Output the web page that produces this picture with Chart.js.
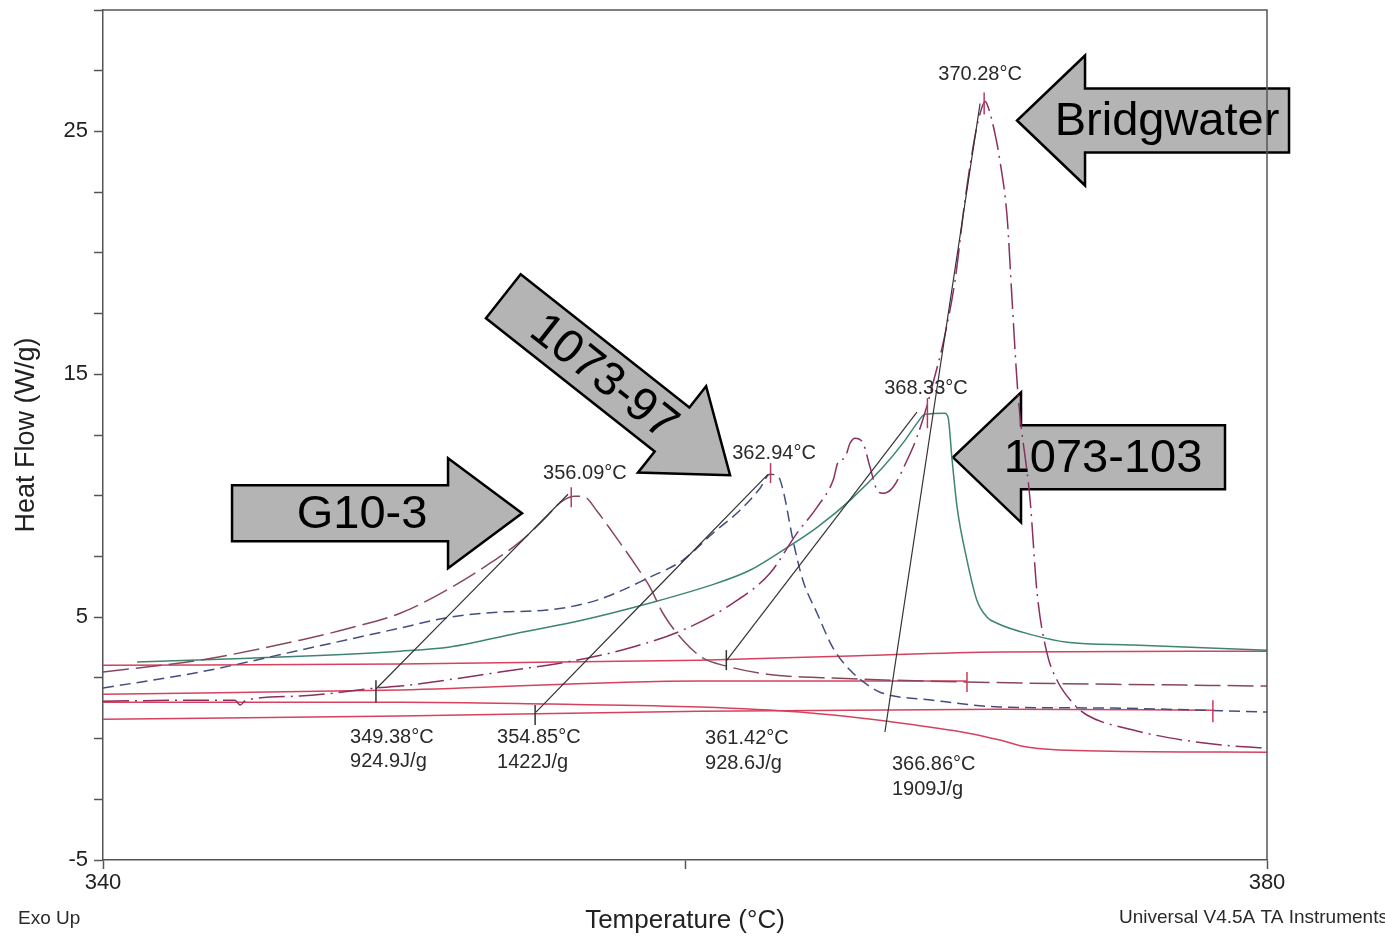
<!DOCTYPE html>
<html>
<head>
<meta charset="utf-8">
<title>DSC heat flow</title>
<script src="https://cdn.jsdelivr.net/npm/chart.js@4.4.1/dist/chart.umd.min.js"></script>
<style>
	html, body { margin: 0; padding: 0; background: #fff; }
	#wrap { width: 1385px; height: 936px; position: relative; }
</style>
</head>
<body>
<div id="wrap"><canvas id="chartDSC"></canvas></div>
<script>
// values: temperature (°C) / heat flow (W/g)
var g10T  = [340, 343.33, 346.77, 348.49, 350.21, 351.92, 353.30, 354.40, 355.19, 355.77, 356.22, 356.56, 356.98, 357.53, 358.35, 358.80, 359.24, 359.93, 360.62, 361.44, 362.82, 365.09, 369.69, 380];
var g10HF = [2.74, 3.23, 4.05, 4.55, 5.16, 6.19, 7.22, 8.17, 9.07, 9.77, 9.98, 9.94, 9.36, 8.46, 7.06, 6.23, 5.16, 4.05, 3.31, 2.98, 2.65, 2.49, 2.33, 2.16];

var n97T  = [340, 343.33, 346.77, 350.21, 351.92, 353.64, 355.26, 356.98, 358.80, 359.93, 360.96, 361.89, 362.58, 362.92, 363.20, 363.37, 363.71, 364.05, 364.54, 365.09, 365.67, 366.19, 366.70, 368.52, 370.82, 374.26, 380];
var n97HF = [2.08, 2.74, 3.64, 4.55, 5.00, 5.21, 5.29, 5.70, 6.65, 7.35, 8.46, 9.40, 10.31, 10.88, 10.80, 10.23, 8.17, 6.52, 5.16, 3.72, 2.82, 2.28, 1.91, 1.58, 1.30, 1.26, 1.09];

var n103T  = [341.17, 345.05, 350.21, 351.92, 354.23, 356.49, 358.80, 361.10, 362.23, 363.37, 364.54, 365.67, 366.80, 367.56, 367.97, 368.25, 368.93, 369.04, 369.18, 369.35, 369.69, 370.03, 370.38, 370.72, 371.96, 373.13, 375.40, 380];
var n103HF = [3.15, 3.31, 3.60, 3.77, 4.34, 4.88, 5.58, 6.40, 6.93, 7.76, 8.70, 9.81, 11.17, 12.28, 12.98, 13.35, 13.40, 13.23, 11.46, 9.53, 7.35, 5.70, 5.00, 4.75, 4.26, 3.97, 3.85, 3.64];

var bwT  = [340, 343.33, 344.54, 344.71, 344.91, 346.77, 349.38, 350.21, 353.64, 356.63, 358.21, 359.93, 361.65, 362.92, 363.85, 364.54, 365.09, 365.26, 365.50, 365.67, 365.84, 366.12, 366.36, 366.60, 366.80, 367.15, 367.63, 367.97, 368.32, 368.52, 368.87, 369.28, 369.62, 369.97, 370.14, 370.31, 370.41, 370.65, 370.82, 371.07, 371.24, 371.44, 371.86, 372.10, 372.44, 372.78, 373.33, 373.81, 375.40, 377.11, 378.83, 380];
var bwHF = [1.54, 1.58, 1.58, 1.38, 1.58, 1.75, 2.08, 2.16, 2.74, 3.31, 3.77, 4.47, 5.58, 6.81, 8.46, 9.53, 10.64, 11.38, 11.58, 12.16, 12.37, 12.16, 11.17, 10.23, 10.10, 10.35, 11.46, 12.41, 13.72, 14.63, 16.28, 18.87, 22.16, 24.84, 25.74, 26.23, 26.03, 24.92, 23.81, 21.46, 18.05, 14.22, 9.81, 5.99, 3.52, 2.41, 1.46, 0.97, 0.35, -0.06, -0.31, -0.39];

// red baseline traces
var baseAT  = [340, 350.21, 360.52, 365.67, 370.82, 380];
var baseAHF = [3.02, 3.07, 3.23, 3.40, 3.56, 3.60];
var baseBT  = [340, 350.21, 360.52, 369.69];
var baseBHF = [1.83, 2.00, 2.37, 2.37];
var baseCT  = [340, 350.21, 355.36, 360.52, 363.95, 367.39, 369.69, 370.82, 371.75, 374.26, 380];
var baseCHF = [1.50, 1.50, 1.42, 1.30, 1.09, 0.64, 0.23, -0.06, -0.35, -0.51, -0.56];
var baseDT  = [340, 350.21, 360.52, 370.82, 378.14];
var baseDHF = [0.80, 0.93, 1.13, 1.21, 1.17];

// onset tangents: [T start, T end], [HF start, HF end]
var tanT  = [[349.38, 355.98], [354.88, 362.85], [361.44, 367.97], [366.87, 370.14]];
var tanHF = [[2.04, 10.06], [1.09, 10.88], [3.23, 13.44], [0.27, 26.15]];

// onset marks, peak marks, integration limit marks
var onsetT  = [349.38, 354.85, 361.42];
var onsetHF = [1.95, 0.97, 3.23];
var peakT   = [356.09, 362.94, 368.33, 370.28];
var peakHF  = [9.94, 10.93, 13.40, 26.15];
var limitT  = [369.69, 378.14];
var limitHF = [2.33, 1.13];

var xTicks = [340, 380];
var yTicks = [-5, 5, 15, 25];

var FONT = '"Liberation Sans", Arial, Helvetica, sans-serif';

// text placed on the plot (anchored in data units)
var notes = [
	{ text: '370.28°C', x: 370.14, y: 27.35, align: 'center' },
	{ text: '368.33°C', x: 368.28, y: 14.42, align: 'center' },
	{ text: '362.94°C', x: 363.06, y: 11.75, align: 'center' },
	{ text: '356.09°C', x: 356.56, y: 10.93, align: 'center' },
	{ text: '349.38°C', x: 348.49, y: 0.06, align: 'left' },
	{ text: '924.9J/g', x: 348.49, y: -0.93, align: 'left' },
	{ text: '354.85°C', x: 353.54, y: 0.06, align: 'left' },
	{ text: '1422J/g',  x: 353.54, y: -0.97, align: 'left' },
	{ text: '361.42°C', x: 360.69, y: 0.02, align: 'left' },
	{ text: '928.6J/g', x: 360.69, y: -1.01, align: 'left' },
	{ text: '366.86°C', x: 367.11, y: -1.05, align: 'left' },
	{ text: '1909J/g',  x: 367.11, y: -2.08, align: 'left' }
];

// sample call-out arrows, tip anchored in data units
var arrows = [
	{ text: 'Bridgwater', tipT: 371.41, tipHF: 25.45, angle: 180, len: 272, head: 68, shaftW: 32, headW: 65, textAt: 150 },
	{ text: '1073-103',   tipT: 369.21, tipHF: 11.58, angle: 180, len: 272, head: 68, shaftW: 32, headW: 65, textAt: 150 },
	{ text: 'G10-3',      tipT: 354.40, tipHF: 9.28,  angle: 0,   len: 290, head: 74, shaftW: 28, headW: 55, textAt: 160 },
	{ text: '1073-97',    tipT: 361.55, tipHF: 10.84, angle: 38.3, len: 289, head: 74, shaftW: 28, headW: 55, textAt: 160 }
];

function pts(ts, hs) {
	return ts.map(function(t, i) { return { x: t, y: hs[i] }; });
}

function curve(label, ts, hs, color, dash, width) {
	return {
		label: label,
		data: pts(ts, hs),
		showLine: true,
		borderColor: color,
		borderWidth: width || 1.5,
		borderDash: dash || [],
		pointRadius: 0,
		cubicInterpolationMode: 'monotone',
		fill: false
	};
}

function marks(label, ts, hs, color, sizes) {
	return {
		label: label,
		data: pts(ts, hs),
		showLine: false,
		pointStyle: 'line',
		rotation: 90,
		pointRadius: sizes,
		pointBorderColor: color,
		pointBorderWidth: 1.5,
		pointHoverRadius: sizes
	};
}

var datasets = [];
datasets.push(marks('onset', onsetT, onsetHF, '#333333', [11, 10, 10]));
datasets.push(marks('peak', peakT, peakHF, '#b53a5e', [10, 10, 15, 11]));
datasets.push(marks('limit', limitT, limitHF, '#cf3a55', [10, 11]));
tanT.forEach(function(t, i) {
	datasets.push(curve('tangent' + i, t, tanHF[i], '#333333', [], 1.2));
});
datasets.push(curve('Bridgwater', bwT, bwHF, '#8c2e62', [26, 6, 2, 6]));
datasets.push(curve('G10-3', g10T, g10HF, '#86495c', [26, 7]));
datasets.push(curve('1073-97', n97T, n97HF, '#434e7e', [11, 6]));
datasets.push(curve('1073-103', n103T, n103HF, '#3d8570'));
datasets.push(curve('baseA', baseAT, baseAHF, '#d6425e'));
datasets.push(curve('baseB', baseBT, baseBHF, '#d6425e'));
datasets.push(curve('baseC', baseCT, baseCHF, '#d6425e'));
datasets.push(curve('baseD', baseDT, baseDHF, '#d6425e'));

function drawArrow(ctx, chart, a) {
	var tx = chart.scales.x.getPixelForValue(a.tipT);
	var ty = chart.scales.y.getPixelForValue(a.tipHF);
	ctx.save();
	ctx.translate(tx, ty);
	ctx.rotate(a.angle * Math.PI / 180);
	ctx.beginPath();
	ctx.moveTo(0, 0);
	ctx.lineTo(-a.head, -a.headW);
	ctx.lineTo(-a.head, -a.shaftW);
	ctx.lineTo(-a.len, -a.shaftW);
	ctx.lineTo(-a.len, a.shaftW);
	ctx.lineTo(-a.head, a.shaftW);
	ctx.lineTo(-a.head, a.headW);
	ctx.closePath();
	ctx.fillStyle = '#b4b4b4';
	ctx.fill();
	ctx.lineWidth = 2.5;
	ctx.lineJoin = 'miter';
	ctx.strokeStyle = '#000';
	ctx.stroke();
	// label sits on the shaft, kept upright
	ctx.translate(-a.textAt, 0);
	if (Math.abs(a.angle) > 90) ctx.rotate(Math.PI);
	ctx.fillStyle = '#000';
	ctx.font = '47px ' + FONT;
	ctx.textAlign = 'center';
	ctx.textBaseline = 'middle';
	ctx.fillText(a.text, 0, 2);
	ctx.restore();
}

var decor = {
	id: 'decor',
	beforeDatasetsDraw: function(chart) {
		var ctx = chart.ctx;
		arrows.forEach(function(a) { drawArrow(ctx, chart, a); });
	},
	afterDatasetsDraw: function(chart) {
		var ctx = chart.ctx, xs = chart.scales.x, ys = chart.scales.y, ca = chart.chartArea;
		ctx.save();
		// top and right edge of the frame
		ctx.strokeStyle = '#555';
		ctx.lineWidth = 1.5;
		ctx.beginPath();
		ctx.moveTo(ca.left, ca.top);
		ctx.lineTo(ca.right, ca.top);
		ctx.lineTo(ca.right, ca.bottom);
		ctx.stroke();

		ctx.fillStyle = '#2a2a2a';
		ctx.font = '20px ' + FONT;
		ctx.textBaseline = 'middle';
		notes.forEach(function(n) {
			ctx.textAlign = n.align;
			ctx.fillText(n.text, xs.getPixelForValue(n.x), ys.getPixelForValue(n.y));
		});

		ctx.font = '19px ' + FONT;
		ctx.textAlign = 'left';
		ctx.fillText('Exo Up', 18, 919);
		ctx.fillText('Universal V4.5A TA Instruments', 1119, 918);
		ctx.restore();
	}
};

function Init() {
	var ctx = document.getElementById('chartDSC').getContext('2d');
	new Chart(ctx, {
		type: 'scatter',
		data: { datasets: datasets },
		plugins: [decor],
		options: {
			responsive: true,
			maintainAspectRatio: false,
			animation: false,
			devicePixelRatio: 1,
			layout: { autoPadding: false, padding: { top: 10, right: 118, left: 0, bottom: 0 } },
			plugins: { legend: { display: false }, tooltip: { enabled: false } },
			scales: {
				x: {
					type: 'linear', min: 340, max: 380,
					afterFit: function(s) { s.height = 76; },
					ticks: {
						stepSize: 20, autoSkip: false, maxRotation: 0, padding: 1, color: '#222',
						font: { family: FONT, size: 22 },
						callback: function(v) { return xTicks.indexOf(v) >= 0 ? String(v) : ''; }
					},
					grid: { drawOnChartArea: false, tickLength: 9, color: '#555', tickWidth: 1.5 },
					border: { color: '#555', width: 1.5 },
					title: { display: true, text: 'Temperature (°C)', color: '#222',
						font: { family: FONT, size: 26 }, padding: { top: 0, bottom: 0 } }
				},
				y: {
					type: 'linear', min: -5, max: 30,
					afterFit: function(s) { s.width = 103; },
					ticks: {
						stepSize: 2.5, autoSkip: false, padding: 6, color: '#222',
						font: { family: FONT, size: 22, lineHeight: 0.1 },
						callback: function(v) { return yTicks.indexOf(v) >= 0 ? String(v) : ''; }
					},
					grid: { drawOnChartArea: false, tickLength: 9, color: '#555', tickWidth: 1.5 },
					border: { color: '#555', width: 1.5 },
					title: { display: true, text: 'Heat Flow (W/g)', color: '#222',
						font: { family: FONT, size: 27 }, padding: { top: 10, bottom: 0 } }
				}
			}
		}
	});
}

Init();
</script>
</body>
</html>
